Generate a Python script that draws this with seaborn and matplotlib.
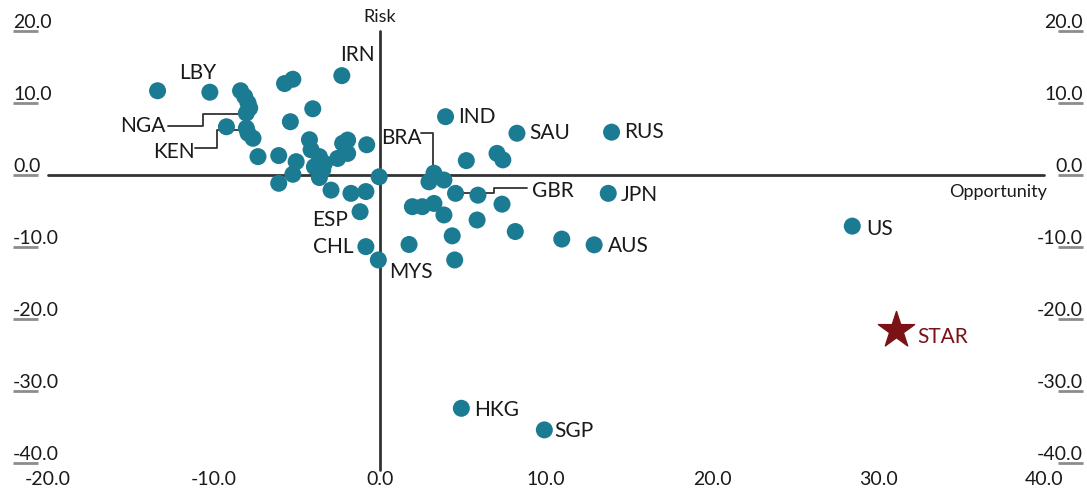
import pandas as pd
import matplotlib
matplotlib.use("Agg")
import matplotlib.pyplot as plt
import seaborn as sns

# opportunity (x) and risk (y) scores per country
opportunity = [
    -13.4, -10.25, -8.4, -8.15, -7.95, -7.85, -8.05, -9.25, -8.05, -7.95,
    -7.65, -7.35, -6.1, -6.1, -5.75, -5.25, -2.3, -4.05, -5.4, -4.25,
    -4.15, -5.05, -5.25, -3.65, -3.35, -3.65, -3.95, -3.45, -2.25, -1.95,
    -1.95, -2.55, -0.8, -0.05, -2.95, -1.75, -0.85, -1.2, -0.85, -0.1,
    5.2, 7.05, 7.4, 3.25, 2.95, 3.85, 4.55, 5.9, 7.35, 1.95,
    2.55, 3.25, 3.85, 5.85, 4.35, 8.15, 1.75, 4.5, 3.95, 8.25,
    13.95, 13.75, 12.9, 10.95, 28.45, 4.9, 9.9,
]
risk = [
    11.7, 11.5, 11.7, 10.9, 10.0, 9.3, 8.6, 6.7, 6.5, 5.8,
    5.1, 2.55, 2.7, -1.15, 12.7, 13.3, 13.8, 9.2, 7.4, 4.9,
    3.5, 1.85, 0.1, 2.55, 1.6, -0.35, 1.15, 0.7, 4.4, 4.85,
    3.0, 2.3, 4.2, -0.25, -2.1, -2.55, -2.3, -5.1, -9.95, -11.8,
    2.0, 3.0, 2.1, 0.25, -0.95, -0.7, -2.55, -2.8, -4.05, -4.4,
    -4.4, -3.95, -5.55, -6.25, -8.45, -7.85, -9.65, -11.8, 8.1, 5.8,
    5.95, -2.55, -9.7, -8.9, -7.1, -32.4, -35.4,
]
codes = [
    "", "LBY", "", "", "", "", "NGA", "", "KEN", "",
    "", "", "", "", "", "", "IRN", "", "", "",
    "", "", "", "", "", "", "", "", "", "",
    "", "", "", "", "", "", "", "ESP", "CHL", "MYS",
    "", "", "", "BRA", "", "", "GBR", "", "", "",
    "", "", "", "", "", "", "", "", "IND", "SAU",
    "RUS", "JPN", "AUS", "", "US", "HKG", "SGP",
]

star_x, star_y = 31.1, -21.5

x_ticks = [-20, -10, 0, 10, 20, 30, 40]
y_ticks = [-40, -30, -20, -10, 0, 10, 20]

# label offsets in points from the dot, plus alignment
label_pos = {
    "LBY": (-9, 14, "center"), "IRN": (-1, 15, "left"),
    "NGA": (-58, -9, "right"), "KEN": (-37, -17, "right"),
    "BRA": (-9, 25, "right"), "IND": (9, 0, "left"),
    "SAU": (9, 0, "left"), "RUS": (9, 0, "left"),
    "GBR": (55, 2, "left"), "JPN": (9, -1, "left"),
    "AUS": (10, -1, "left"), "US": (10, -2, "left"),
    "HKG": (9, -1, "left"), "SGP": (7, -1, "left"),
    "ESP": (-9, -6, "right"), "CHL": (-9, 0, "right"),
    "MYS": (8, -9, "left"),
}

# elbow leader lines (data coords)
leaders = {
    "NGA": ([-12.77, -10.66, -10.66, -8.05], [6.81, 6.81, 8.47, 8.47]),
    "KEN": ([-11.14, -9.82, -9.82, -8.05], [3.75, 3.75, 6.25, 6.25]),
    "BRA": ([2.47, 3.19, 3.19], [5.83, 5.83, 0.25]),
    "GBR": ([4.55, 6.87, 6.87, 8.86], [-2.5, -2.5, -1.81, -1.81]),
}

df = pd.DataFrame({"opportunity": opportunity, "risk": risk, "code": codes})

sns.set_style("white")
plt.rcParams["font.family"] = ["Lato", "DejaVu Sans"]

teal = "#1b7b93"
star_col = "#7a1216"
dark = "#333333"

fig = plt.figure(figsize=(10.87, 4.91), dpi=100)
ax = fig.add_axes([13 / 1087, 28 / 491, 1070 / 1087, 432 / 491])

# quadrant lines
ax.plot([x_ticks[0], x_ticks[-1]], [0, 0], color=dark, lw=2, zorder=1)
ax.plot([0, 0], [y_ticks[0] - 1, y_ticks[-1]], color=dark, lw=2, zorder=1, clip_on=False)

for name, (lx, ly) in leaders.items():
    ax.plot(lx, ly, color=dark, lw=1.3, zorder=1)

sns.scatterplot(data=df, x="opportunity", y="risk", ax=ax, s=150, color=teal,
                edgecolor="none", zorder=3, legend=False)
ax.scatter([star_x], [star_y], marker="*", s=750, color=star_col, zorder=3)

for _, row in df[df["code"] != ""].iterrows():
    dx, dy, ha = label_pos[row["code"]]
    ax.annotate(row["code"], (row["opportunity"], row["risk"]), xytext=(dx, dy),
                textcoords="offset points", ha=ha, va="center",
                fontsize=15, color="#1a1a1a", zorder=4)
ax.annotate("STAR", (star_x, star_y), xytext=(15, -5), textcoords="offset points",
            ha="left", va="center", fontsize=15, color=star_col)

ax.text(0, 21.9, "Risk", ha="center", va="center", fontsize=13, color="#1a1a1a")
ax.text(40.2, -2.4, "Opportunity", ha="right", va="center", fontsize=13, color="#1a1a1a")

ax.set_xlim((13 - 380) / 16.6, (1083 - 380) / 16.6)
ax.set_ylim(y_ticks[0], y_ticks[-1])
ax.set_xticks(x_ticks)
ax.set_xticklabels([f"{v:.1f}" for v in x_ticks])
ax.set_yticks(y_ticks)
ax.set_yticklabels([f"{v:.1f}" for v in y_ticks])
ax.set_xlabel("")
ax.set_ylabel("")

ax.tick_params(axis="x", length=0, pad=6, labelsize=14, labelcolor="#1a1a1a")
ax.tick_params(axis="y", direction="in", length=18, width=2, color="#8c8c8c",
               left=True, right=True, labelleft=True, labelright=True,
               pad=0, labelsize=14, labelcolor="#1a1a1a")
for tick in ax.yaxis.get_major_ticks():
    tick.label1.set_horizontalalignment("left")
    tick.label1.set_verticalalignment("bottom")
    tick.label2.set_horizontalalignment("right")
    tick.label2.set_verticalalignment("bottom")

for sp in ax.spines.values():
    sp.set_visible(False)
ax.patch.set_alpha(0)

fig.savefig("out.png", dpi=100)
